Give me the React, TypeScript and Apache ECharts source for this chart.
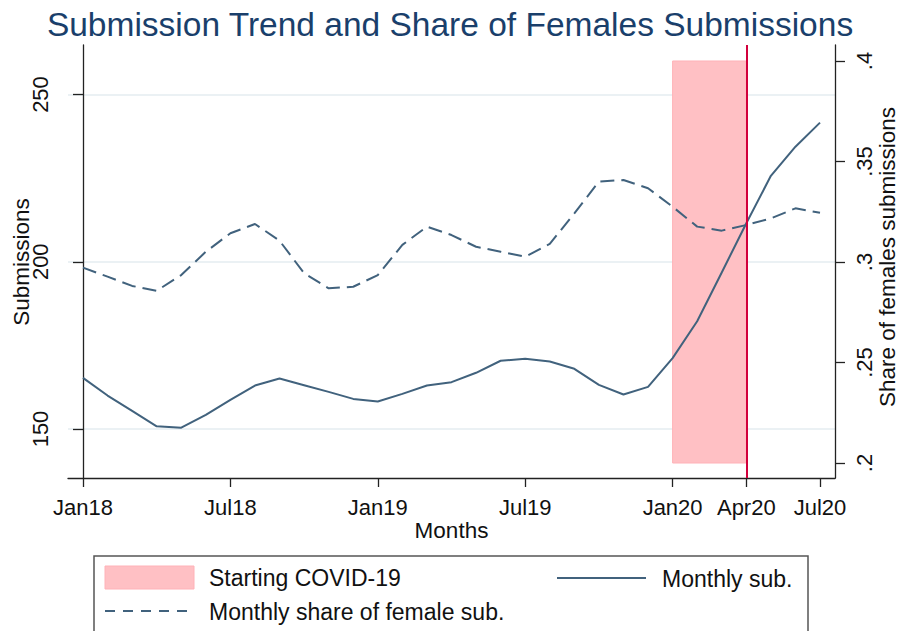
import React, { useEffect, useRef } from "react";
import * as echarts from "echarts";

const months = [
  "Jan18", "Feb18", "Mar18", "Apr18", "May18", "Jun18", "Jul18", "Aug18", "Sep18", "Oct18", "Nov18", "Dec18",
  "Jan19", "Feb19", "Mar19", "Apr19", "May19", "Jun19", "Jul19", "Aug19", "Sep19", "Oct19", "Nov19", "Dec19",
  "Jan20", "Feb20", "Mar20", "Apr20", "May20", "Jun20", "Jul20",
];

const monthlySub = [
  165.3, 160.0, 155.4, 150.8, 150.4, 154.2, 158.7, 163.0, 165.1, 163.1, 161.1, 159.0,
  158.2, 160.5, 163.0, 164.0, 166.8, 170.4, 171.0, 170.2, 168.0, 163.2, 160.3, 162.6,
  171.2, 182.2, 196.8, 211.5, 225.7, 234.4, 241.6,
];

const femaleShare = [
  0.2972, 0.2927, 0.2881, 0.2857, 0.2935, 0.3051, 0.3143, 0.3189, 0.3106, 0.2944, 0.2869, 0.2877,
  0.2935, 0.3085, 0.3176, 0.3134, 0.3076, 0.3051, 0.3026, 0.3090, 0.3242, 0.3400, 0.3408, 0.3367,
  0.3275, 0.3176, 0.3156, 0.3184, 0.3217, 0.3267, 0.3245,
];

const xTickLabels = ["Jan18", "Jul18", "Jan19", "Jul19", "Jan20", "Apr20", "Jul20"];
const leftTicks = [150, 200, 250];
const rightTicks = [0.2, 0.25, 0.3, 0.35, 0.4];
const rightTickLabels = [".2", ".25", ".3", ".35", ".4"];
const covidBand = ["Jan20", "Apr20"];
const covidShareRange = [0.2, 0.4];
const covidLine = "Apr20";

const FONT = "'Liberation Sans', Arial, Helvetica, sans-serif";
const LINE_COLOR = "#41627d";
const AXIS_COLOR = "#222222";

export default function App() {
  const ref = useRef<HTMLDivElement>(null);

  useEffect(() => {
    if (!ref.current) return;
    const chart = echarts.init(ref.current, undefined, { renderer: "svg" });
    const xTickIdx = xTickLabels.map((m) => months.indexOf(m));
    const bandStart = months.indexOf(covidBand[0]);
    const bandEnd = months.indexOf(covidBand[1]);
    const lineIdx = months.indexOf(covidLine);

    const option: any = {
      animation: false,
      backgroundColor: "#ffffff",
      textStyle: { fontFamily: FONT },
      grid: { left: 68, right: 63, top: 45, bottom: 153, containLabel: false, outerBoundsMode: "none" },
      xAxis: {
        type: "value",
        min: -0.61,
        max: 30.61,
        name: "Months",
        nameLocation: "middle",
        nameGap: 41,
        nameMoveOverlap: false,
        nameTextStyle: { fontSize: 22.5, color: "#111", fontFamily: FONT },
        axisLine: { show: true, lineStyle: { color: AXIS_COLOR, width: 1.3 } },
        axisTick: { show: true, length: 9, customValues: xTickIdx, lineStyle: { color: AXIS_COLOR, width: 1.3 } },
        axisLabel: {
          customValues: xTickIdx,
          formatter: (v: number) => months[Math.round(v)],
          margin: 18,
          fontSize: 22,
          color: "#111",
          fontFamily: FONT,
        },
        splitLine: { show: false },
      },
      yAxis: [
        {
          type: "value",
          position: "left",
          min: 135.35,
          max: 264.8,
          axisLine: { show: true, lineStyle: { color: AXIS_COLOR, width: 1.3 } },
          axisTick: { show: true, length: 10, customValues: leftTicks, lineStyle: { color: AXIS_COLOR, width: 1.3 } },
          axisLabel: { customValues: leftTicks, rotate: 90, margin: 17, fontSize: 22, color: "#111", fontFamily: FONT },
          splitLine: { show: false },
        },
        {
          type: "value",
          position: "right",
          min: 0.19254,
          max: 0.40796,
          axisLine: { show: true, lineStyle: { color: AXIS_COLOR, width: 1.3 } },
          axisTick: { show: true, length: 10, customValues: rightTicks, lineStyle: { color: AXIS_COLOR, width: 1.3 } },
          axisLabel: {
            customValues: rightTicks,
            rotate: 90,
            margin: 18,
            fontSize: 22,
            color: "#111",
            fontFamily: FONT,
            formatter: (v: number) => {
              const i = rightTicks.findIndex((t) => Math.abs(t - v) < 1e-6);
              return i >= 0 ? rightTickLabels[i] : "";
            },
          },
          splitLine: { show: false },
        },
      ],
      series: [
        {
          name: "Monthly sub.",
          type: "line",
          yAxisIndex: 0,
          data: months.map((_, i) => [i, monthlySub[i]]),
          showSymbol: false,
          symbol: "none",
          lineStyle: { color: LINE_COLOR, width: 2 },
          z: 3,
          silent: true,
          markLine: {
            silent: true,
            z: 0,
            symbol: ["none", "none"],
            label: { show: false },
            lineStyle: { color: "#e4edf0", width: 1.5, type: "solid" },
            data: leftTicks.map((v) => ({ yAxis: v })),
          },
        },
        {
          name: "Monthly share of female sub.",
          type: "line",
          yAxisIndex: 1,
          data: months.map((_, i) => [i, femaleShare[i]]),
          showSymbol: false,
          symbol: "none",
          lineStyle: { color: LINE_COLOR, width: 2, type: [14, 7] },
          z: 3,
          silent: true,
          markArea: {
            silent: true,
            z: 1,
            itemStyle: { color: "#ffc0c4", borderColor: "#ffb2b8", borderWidth: 1 },
            data: [
              [
                { xAxis: bandStart, yAxis: covidShareRange[0] },
                { xAxis: bandEnd, yAxis: covidShareRange[1] },
              ],
            ],
          },
          markLine: {
            silent: true,
            z: 5,
            symbol: ["none", "none"],
            label: { show: false },
            lineStyle: { color: "#d2003c", width: 2, type: "solid" },
            data: [{ xAxis: lineIdx }],
          },
        },
      ],
      graphic: [
        {
          type: "text",
          x: 450,
          y: 24,
          style: {
            text: "Submission Trend and Share of Females Submissions",
            fontSize: 33.5,
            fontFamily: FONT,
            fill: "#1a3f6b",
            align: "center",
            verticalAlign: "middle",
          },
        },
        {
          type: "text",
          x: 21,
          y: 262,
          rotation: Math.PI / 2,
          style: {
            text: "Submissions",
            fontSize: 22.5,
            fontFamily: FONT,
            fill: "#111",
            align: "center",
            verticalAlign: "middle",
          },
        },
        {
          type: "text",
          x: 887,
          y: 257,
          rotation: Math.PI / 2,
          style: {
            text: "Share of females submissions",
            fontSize: 22.5,
            fontFamily: FONT,
            fill: "#111",
            align: "center",
            verticalAlign: "middle",
          },
        },
        {
          type: "rect",
          shape: { x: 94, y: 556, width: 714, height: 110 },
          style: { fill: "#ffffff", stroke: "#555555", lineWidth: 1.5 },
        },
        {
          type: "rect",
          shape: { x: 105, y: 566, width: 89, height: 23 },
          style: { fill: "#ffc0c4", stroke: "#ffb2b8", lineWidth: 1 },
        },
        {
          type: "text",
          x: 209,
          y: 578,
          style: { text: "Starting COVID-19", fontSize: 23, fontFamily: FONT, fill: "#111", align: "left", verticalAlign: "middle" },
        },
        {
          type: "line",
          shape: { x1: 557, y1: 578, x2: 646, y2: 578 },
          style: { stroke: LINE_COLOR, lineWidth: 2 },
        },
        {
          type: "text",
          x: 662,
          y: 579,
          style: { text: "Monthly sub.", fontSize: 23, fontFamily: FONT, fill: "#111", align: "left", verticalAlign: "middle" },
        },
        {
          type: "line",
          shape: { x1: 105, y1: 611, x2: 194, y2: 611 },
          style: { stroke: LINE_COLOR, lineWidth: 2, lineDash: [10, 8] },
        },
        {
          type: "text",
          x: 209,
          y: 612,
          style: {
            text: "Monthly share of female sub.",
            fontSize: 23,
            fontFamily: FONT,
            fill: "#111",
            align: "left",
            verticalAlign: "middle",
          },
        },
      ],
    };

    chart.setOption(option);
    return () => chart.dispose();
  }, []);

  return (
    <div
      ref={ref}
      style={{ position: "fixed", left: 0, top: 0, width: 898, height: 631, background: "#fff" }}
    />
  );
}
